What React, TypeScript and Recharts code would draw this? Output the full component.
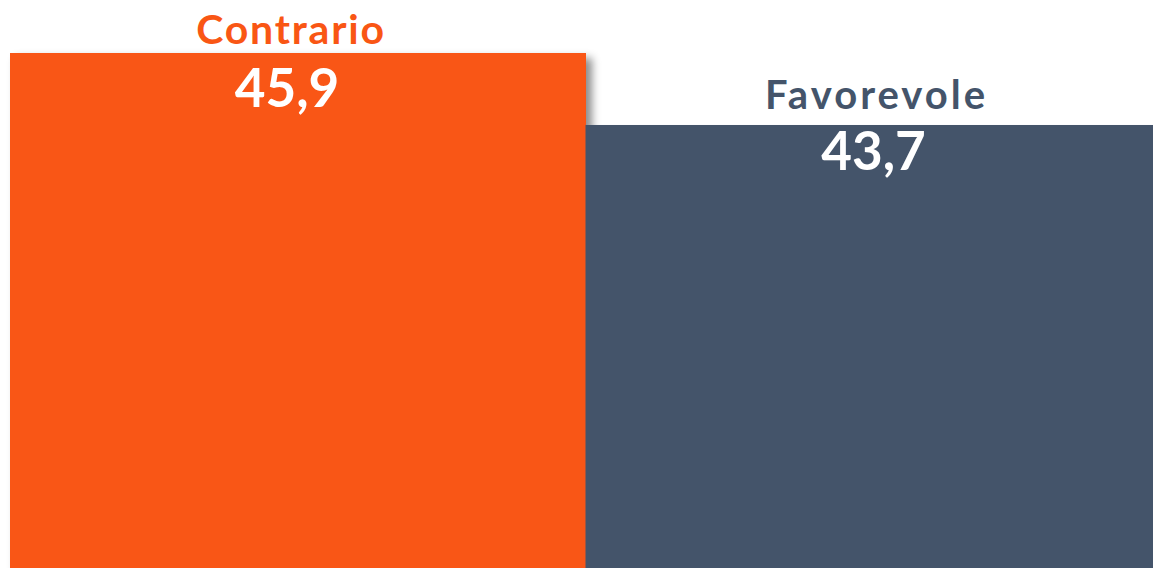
import { BarChart, Bar, XAxis, YAxis, Cell, LabelList } from 'recharts'

const categories = ['Contrario', 'Favorevole']
const values = [45.9, 43.7]
const colors = ['#F95614', '#44546A']

const data = categories.map((name, i) => ({ name, value: values[i] }))

const FONT = 'Lato, "DejaVu Sans", sans-serif'

// small per-bar nudges so the labels sit where the original has them
const nameDy = [-9, -16]
const nameDx = [-7, 3]
const nameSpacing = [1.8, 3]
const valueDy = [54, 45]
const valueDx = [-11, 0]

function BarShape(props: any) {
  const { x, y, width, height, index } = props
  if (index === 0) {
    return (
      <g>
        <defs>
          <filter id="barShadow" x="-10%" y="-10%" width="130%" height="130%">
            <feDropShadow dx="6" dy="5" stdDeviation="4" floodColor="#000" floodOpacity="0.45" />
          </filter>
        </defs>
        <rect x={x} y={y} width={width} height={height} fill={colors[0]} filter="url(#barShadow)" />
      </g>
    )
  }
  return <rect x={x} y={y} width={width} height={height} fill={colors[index]} />
}

function NameLabel(props: any) {
  const { x, y, width, index } = props
  return (
    <text
      x={x + width / 2 + nameDx[index]}
      y={y + nameDy[index]}
      textAnchor="middle"
      fill={colors[index]}
      fontFamily={FONT}
      fontWeight="bold"
      fontSize={index === 0 ? 41 : 40}
      letterSpacing={nameSpacing[index]}
    >
      {categories[index]}
    </text>
  )
}

function ValueLabel(props: any) {
  const { x, y, width, value, index } = props
  return (
    <text
      x={x + width / 2 + valueDx[index]}
      y={y + valueDy[index]}
      textAnchor="middle"
      fill="#ffffff"
      fontFamily={FONT}
      fontWeight="bold"
      fontSize={53}
    >
      {String(value).replace('.', ',')}
    </text>
  )
}

export default function App() {
  return (
    <div style={{ width: 1153, height: 568, overflow: 'hidden', position: 'fixed', left: 0, top: 0, background: '#fff' }}>
      <BarChart
        width={1161}
        height={568}
        data={data}
        margin={{ top: 0, right: 0, left: 10, bottom: 0 }}
        barCategoryGap={0}
      >
        <XAxis dataKey="name" hide />
        <YAxis hide domain={[30.16, 47.52]} allowDataOverflow />
        <Bar dataKey="value" shape={<BarShape />} isAnimationActive={false}>
          {data.map((d, i) => (
            <Cell key={d.name} fill={colors[i]} />
          ))}
          <LabelList dataKey="value" content={<NameLabel />} />
          <LabelList dataKey="value" content={<ValueLabel />} />
        </Bar>
      </BarChart>
    </div>
  )
}
